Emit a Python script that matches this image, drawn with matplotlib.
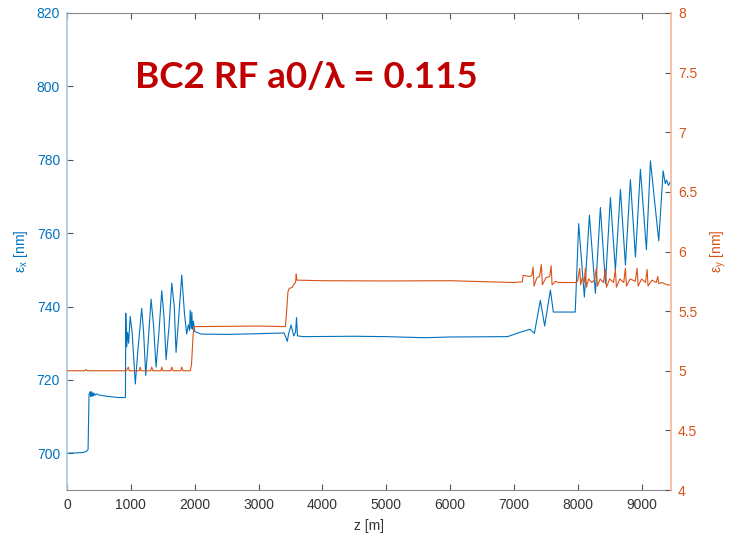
import matplotlib
matplotlib.use('Agg')
import matplotlib.pyplot as plt
from matplotlib.ticker import FormatStrFormatter

plt.rcParams['font.family'] = ['Liberation Sans', 'DejaVu Sans']
plt.rcParams['mathtext.fontset'] = 'custom'
plt.rcParams['mathtext.rm'] = 'Liberation Sans'

# eps_x (left axis)
ex_z = [0, 250, 300, 330, 345, 360, 370, 380, 390, 400, 410, 420, 440, 460, 500, 600,
        700, 800, 900, 915, 920, 935, 950, 965, 990, 1020, 1070, 1110, 1170, 1200, 1233,
        1270, 1317, 1355, 1395, 1440, 1484, 1520, 1552, 1600, 1641, 1680, 1708, 1750,
        1797, 1840, 1875, 1900, 1920, 1930, 1945, 1955, 1965, 1980, 2000, 2100, 2500,
        3000, 3400, 3430, 3450, 3470, 3510, 3550, 3580, 3595, 3610, 3700, 4500, 5000,
        5600, 6000, 6900, 7100, 7250, 7320, 7414, 7481, 7571, 7617, 7960, 8014, 8103,
        8182, 8276, 8354, 8433, 8511, 8589, 8668, 8746, 8824, 8903, 8981, 9075, 9138,
        9268, 9337, 9370, 9390, 9420, 9450]
ex_val = [700, 700.2, 700.5, 701, 716.0, 716.8, 715.5, 716.8, 715.5, 716.5, 715.6, 716.4,
          715.8, 716.2, 715.9, 715.6, 715.4, 715.2, 715.2, 715.3, 738.2, 729, 733, 730,
          737.3, 733, 718.9, 728, 739.5, 733, 721.2, 730, 742, 735, 723.5, 733, 744.3,
          737, 725.5, 735, 746.4, 740, 727.5, 737, 748.6, 738, 732.5, 735, 733.5, 739,
          734, 738.5, 733.8, 736, 733.2, 732.5, 732.4, 732.6, 732.8, 731.5, 730.5, 732.5,
          735, 732, 733, 737, 732, 731.8, 731.9, 731.8, 731.5, 731.7, 731.8, 733, 733.8,
          732.7, 741.7, 734.7, 744.5, 738.5, 738.5, 762.6, 742.6, 764.9, 743.6, 767,
          746.3, 769.7, 749.9, 771.9, 751.3, 774.6, 753.5, 777.4, 755.5, 779.7, 757.9,
          777, 773.5, 774.5, 773, 774]

# eps_y (right axis)
ey_z = [0, 280, 300, 320, 900, 930, 960, 975, 1000, 1130, 1145, 1160, 1310, 1327, 1345,
        1470, 1484, 1500, 1625, 1641, 1660, 1780, 1797, 1815, 1930, 1950, 1975, 1990,
        2000, 3000, 3420, 3440, 3460, 3480, 3530, 3545, 3580, 3590, 3600, 4000, 5000,
        6000, 7000, 7100, 7130, 7145, 7250, 7280, 7300, 7315, 7360, 7400, 7430, 7445,
        7500, 7560, 7582, 7598, 7650, 7700, 7980, 8000, 8030, 8045, 8070, 8100, 8119,
        8135, 8170, 8220, 8260, 8292, 8308, 8350, 8400, 8433, 8450, 8500, 8560, 8589,
        8605, 8660, 8720, 8746, 8762, 8820, 8900, 8929, 8945, 9000, 9060, 9086, 9100,
        9160, 9230, 9252, 9270, 9320, 9400, 9450]
ey_val = [5.0, 5.0, 5.01, 5.0, 5.0, 5.0, 5.03, 5.0, 5.0, 5.0, 5.03, 5.0, 5.0, 5.03, 5.0,
          5.0, 5.03, 5.0, 5.0, 5.03, 5.0, 5.0, 5.03, 5.0, 5.0, 5.05, 5.30, 5.37,
          5.37, 5.375, 5.37, 5.5, 5.66, 5.69, 5.7, 5.72, 5.74, 5.81, 5.76, 5.755, 5.753,
          5.755, 5.74, 5.745, 5.745, 5.80, 5.79, 5.80, 5.87, 5.71, 5.78, 5.79, 5.89, 5.72,
          5.78, 5.79, 5.88, 5.72, 5.75, 5.74, 5.74, 5.76, 5.86, 5.72, 5.78, 5.74, 5.86,
          5.70, 5.77, 5.74, 5.76, 5.86, 5.71, 5.77, 5.74, 5.85, 5.70, 5.77, 5.74, 5.85,
          5.70, 5.77, 5.74, 5.86, 5.71, 5.77, 5.75, 5.86, 5.71, 5.77, 5.74, 5.85, 5.71,
          5.76, 5.74, 5.79, 5.73, 5.74, 5.72, 5.72]

x_ticks = [0, 1000, 2000, 3000, 4000, 5000, 6000, 7000, 8000, 9000]
left_ticks = [700, 720, 740, 760, 780, 800, 820]
right_ticks = [4, 4.5, 5, 5.5, 6, 6.5, 7, 7.5, 8]

blue = '#0072BD'
orange = '#D95319'
grey = '#555555'

fig = plt.figure(figsize=(7.33, 5.35), dpi=100)
ax = fig.add_axes([67 / 733, 45 / 535, 604 / 733, 477 / 535])
ax2 = ax.twinx()

ax.plot(ex_z, ex_val, color=blue, lw=0.8)
ax2.plot(ey_z, ey_val, color=orange, lw=0.8)

ax.set_xlim(0, 9460)
ax.set_ylim(690, 820)
ax2.set_ylim(4, 8)
ax.set_xticks(x_ticks)
ax.set_yticks(left_ticks)
ax2.set_yticks(right_ticks)
ax2.yaxis.set_major_formatter(FormatStrFormatter('%g'))

for s in ['top', 'bottom']:
    ax.spines[s].set_color('#8a8a8a')
    ax2.spines[s].set_visible(False)
ax.spines['left'].set_color('#9fcaea')
ax.spines['left'].set_linewidth(1.2)
ax.spines['right'].set_visible(False)
ax2.spines['left'].set_visible(False)
ax2.spines['right'].set_color('#f3b69b')
ax2.spines['right'].set_linewidth(1.2)

ax.tick_params(axis='x', direction='in', length=4, color=grey, top=True,
               labelsize=10, labelcolor='#333333', pad=6)
ax.tick_params(axis='y', direction='in', length=4, color=grey,
               labelsize=10, labelcolor=blue, pad=5)
ax2.tick_params(axis='y', direction='in', length=4, color=grey,
                labelsize=10, labelcolor=orange, pad=5)

ax.set_xlabel('z [m]', fontsize=10, color='#333333', labelpad=5)
ax.set_ylabel('\u03b5$_{\\rm x}$ [nm]', fontsize=10, color=blue, labelpad=5)
ax2.set_ylabel('\u03b5$_{\\rm y}$ [nm]', fontsize=10, color=orange, rotation=90,
               labelpad=8)

fig.text(135 / 733, 1 - 88 / 535, 'BC2 RF a0/\u03bb = 0.115', fontsize=26.5,
         fontweight='bold', color='#C00000', family=['Lato', 'DejaVu Sans'],
         ha='left', va='baseline')

fig.savefig('out.png', dpi=100)
